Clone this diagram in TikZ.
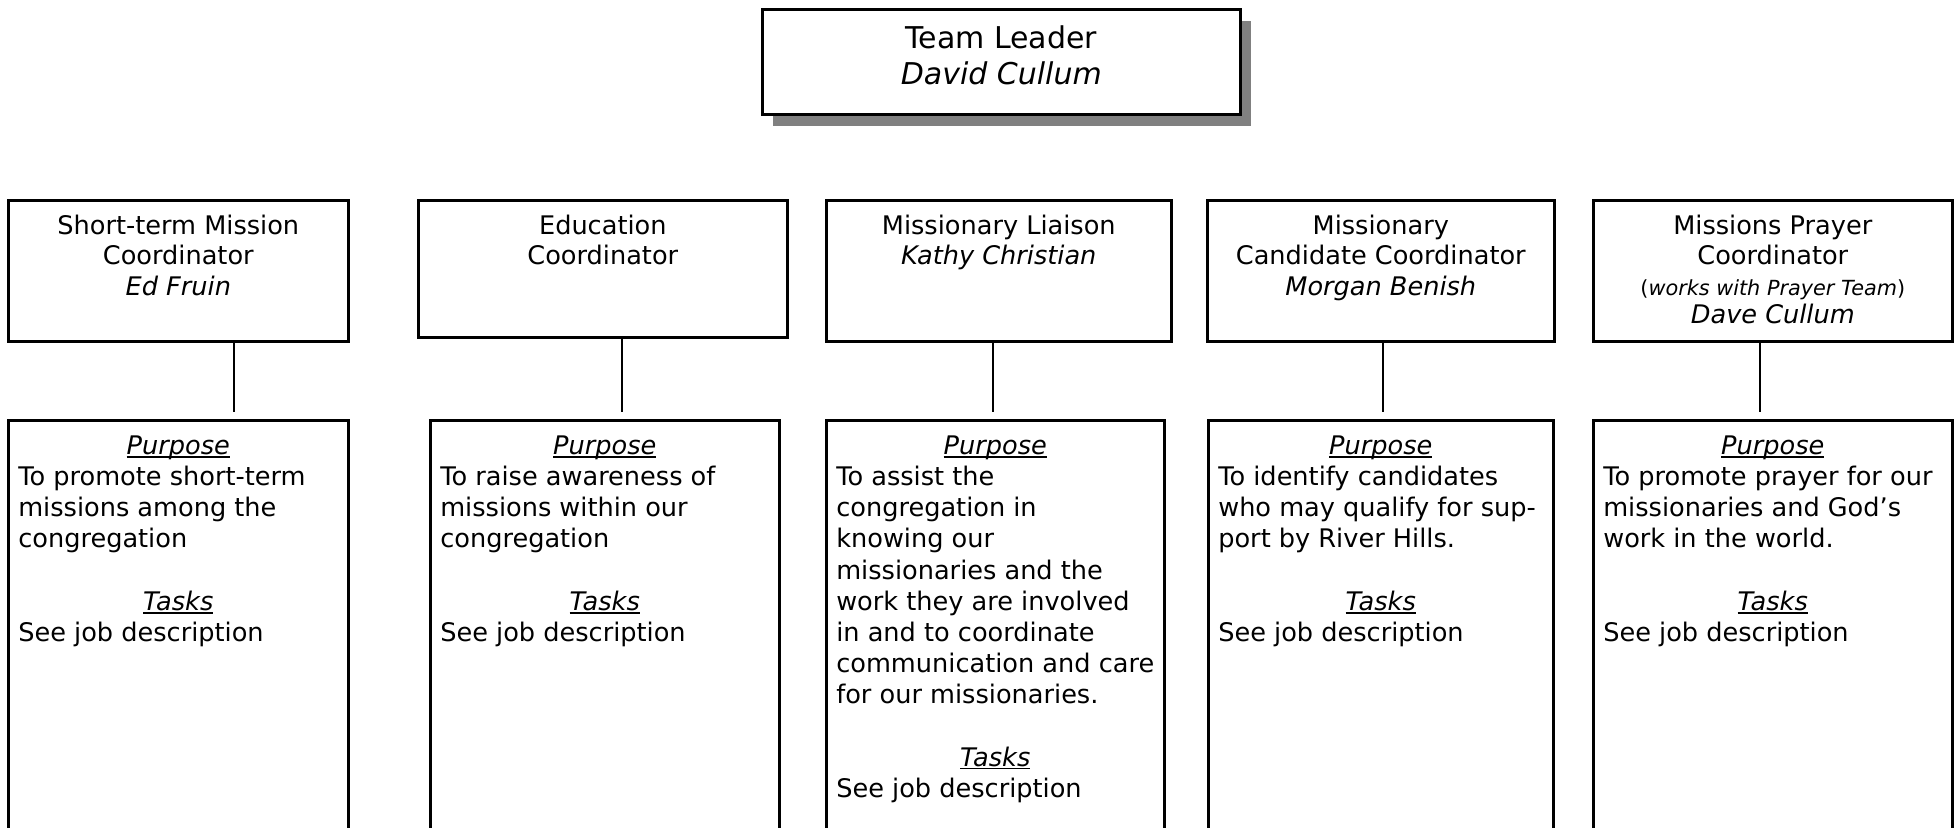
\documentclass[tikz,border=0pt]{standalone}
\usepackage{fontspec}
\setmainfont{DejaVu Sans}
\usetikzlibrary{shadows}
% italic heading with an underline that runs through the descenders
\newcommand\hdr[1]{\setbox0=\hbox{\itshape #1}\rlap{\rule[-1.6pt]{\wd0}{0.9pt}}\box0}
% upper row: role title, top aligned
\newcommand\rolebox[3]{\parbox[c][#2][t]{#1}{\centering\fontsize{12.8pt}{15.2pt}\selectfont\rule{0pt}{17pt}#3}}
% lower row: purpose and tasks
\newcommand\dutybox[2]{\parbox[c][215.5pt][t]{#1}{\raggedright\fontsize{12.8pt}{15.6pt}\selectfont
  \makebox[\linewidth]{\rule{0pt}{17pt}\hdr{Purpose}}\\
  #2\\[15.6pt]
  \makebox[\linewidth]{\hdr{Tasks}}\\
  See job description}}
\begin{document}
\begin{tikzpicture}[x=0.5pt,y=-0.5pt,
  frame/.style={draw, line width=1.3pt, fill=white, inner sep=0pt, anchor=north west},
  lead/.style={frame, drop shadow={shadow xshift=5.5pt, shadow yshift=-6pt, fill=black!50, opacity=1}},
  dutyframe/.style={frame, inner xsep=5pt, inner ysep=0pt},
  link/.style={line width=1.1pt}]
\useasboundingbox (0,0) rectangle (1956,828);
\clip (0,0) rectangle (1956,828);

% team leader
\node[lead] (leader) at (761,8)
  {\parbox[c][52.5pt][t]{239pt}{\centering\fontsize{15pt}{18pt}\selectfont
   \rule{0pt}{19.5pt}Team Leader\\\textit{David Cullum}}};

% coordinators
\node[frame] (r1) at (7,199)
  {\rolebox{170pt}{70.5pt}{Short-term Mission\\Coordinator\\\textit{Ed Fruin}}};
\node[frame] (r2) at (417,199)
  {\rolebox{184.5pt}{68.5pt}{Education\\Coordinator}};
\node[frame] (r3) at (825,199)
  {\rolebox{172.5pt}{70.5pt}{Missionary Liaison\\\textit{Kathy Christian}}};
\node[frame] (r4) at (1206,199)
  {\rolebox{173.5pt}{70.5pt}{Missionary\\Candidate Coordinator\\\textit{Morgan Benish}}};
\node[frame] (r5) at (1592,199)
  {\rolebox{179.5pt}{70.5pt}{Missions Prayer\\Coordinator\\{\fontsize{10.4pt}{15pt}\selectfont(\textit{works with Prayer Team})}\\[-1pt]\textit{Dave Cullum}}};

% purpose and tasks
\node[dutyframe] (d1) at (7,419)
  {\dutybox{160pt}{To promote short-term\\missions among the\\congregation}};
\node[dutyframe] (d2) at (429,419)
  {\dutybox{164.5pt}{To raise awareness of\\missions within our\\congregation}};
\node[dutyframe] (d3) at (825,419)
  {\dutybox{159pt}{To assist the\\congregation in\\knowing our\\missionaries and the\\\mbox{work they are involved}\\in and to coordinate\\\mbox{communication and care}\\for our missionaries.}};
\node[dutyframe] (d4) at (1207,419)
  {\dutybox{162.5pt}{To identify candidates\\\mbox{who may qualify for sup-}\\port by River Hills.}};
\node[dutyframe] (d5) at (1592,419)
  {\dutybox{169.5pt}{\mbox{To promote prayer for our}\\missionaries and God’s\\work in the world.}};

% connector positions
\coordinate (k1) at (234,0);
\coordinate (k2) at (622,0);
\coordinate (k3) at (993,0);
\coordinate (k4) at (1383,0);
\coordinate (k5) at (1760,0);
\foreach \i in {1,...,5}
  \draw[link] (r\i.south -| k\i) -- ([yshift=3.5pt]d\i.north -| k\i);
\end{tikzpicture}
\end{document}
